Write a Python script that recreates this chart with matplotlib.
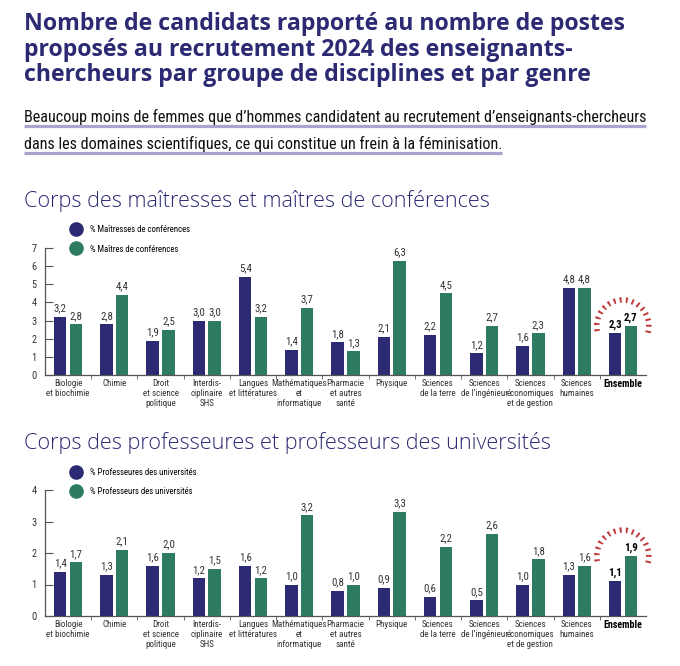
import numpy as np
import matplotlib.pyplot as plt
from matplotlib.lines import Line2D
from matplotlib.patches import Arc
from matplotlib.transforms import ScaledTranslation

# data
categories = ["Biologie\net biochimie", "Chimie", "Droit\net science\npolitique",
              "Interdis-\nciplinaire\nSHS", "Langues\net littératures",
              "Mathématiques\net\ninformatique", "Pharmacie\net autres\nsanté",
              "Physique", "Sciences\nde la terre", "Sciences\nde l\u2019ingénieur",
              "Sciences\néconomiques\net de gestion", "Sciences\nhumaines", "Ensemble"]

mcf_femmes = [3.2, 2.8, 1.9, 3.0, 5.4, 1.4, 1.8, 2.1, 2.2, 1.2, 1.6, 4.8, 2.3]
mcf_hommes = [2.8, 4.4, 2.5, 3.0, 3.2, 3.7, 1.3, 6.3, 4.5, 2.7, 2.3, 4.8, 2.7]
pu_femmes = [1.4, 1.3, 1.6, 1.2, 1.6, 1.0, 0.8, 0.9, 0.6, 0.5, 1.0, 1.3, 1.1]
pu_hommes = [1.7, 2.1, 2.0, 1.5, 1.2, 3.2, 1.0, 3.3, 2.2, 2.6, 1.8, 1.6, 1.9]

title_lines = ["Nombre de candidats rapporté au nombre de postes",
               "proposés au recrutement 2024 des enseignants-",
               "chercheurs par groupe de disciplines et par genre"]
subtitle_lines = ["Beaucoup moins de femmes que d\u2019hommes candidatent au recrutement d\u2019enseignants-chercheurs",
                  "dans les domaines scientifiques, ce qui constitue un frein à la féminisation."]
heading1 = "Corps des maîtresses et maîtres de conférences"
heading2 = "Corps des professeures et professeurs des universités"
legend1 = ["% Maîtresses de conférences", "% Maîtres de conférences"]
legend2 = ["% Professeures des universités", "% Professeurs des universités"]

NAVY = "#2b2a72"
GREEN = "#2e7b63"
RED = "#c0393b"
TEXT = "#333333"
NARROW = ["Liberation Sans Narrow", "Roboto Condensed", "Noto Sans Condensed",
          "Open Sans Condensed", "DejaVu Sans Condensed", "Noto Sans", "DejaVu Sans"]

W, H = 680, 666
fig = plt.figure(figsize=(W / 100, H / 100), dpi=100)


def fx(x):
    return x / W


def fy(y):
    return 1 - y / H


def fit(texts, target_px):
    # scale font size so the first text spans target_px
    fig.canvas.draw()
    w = texts[0].get_window_extent(fig.canvas.get_renderer()).width
    for t in texts:
        t.set_fontsize(t.get_fontsize() * target_px / w)


# header
title_texts = []
for i, line in enumerate(title_lines):
    title_texts.append(fig.text(fx(24), fy(30 + i * 25.5), line, fontsize=16, fontweight="bold",
                                family=["Open Sans", "DejaVu Sans"], color=NAVY, va="baseline"))

sub_texts = []
for i, line in enumerate(subtitle_lines):
    sub_texts.append(fig.text(fx(24), fy(122 + i * 26.5), line, fontsize=12.5, family=NARROW,
                              fontstretch="condensed", color="#111111", va="baseline", zorder=3))

h1 = fig.text(fx(24), fy(207), heading1, fontsize=14.4, family=["Open Sans", "DejaVu Sans"],
              fontweight=300, color=NAVY, va="baseline")
h2 = fig.text(fx(24), fy(449), heading2, fontsize=14.4, family=["Open Sans", "DejaVu Sans"],
              fontweight=300, color=NAVY, va="baseline")

fit(title_texts, 604)
fit(sub_texts, 628)
fit([h1, h2], 466)


def fmt(v):
    return f"{v:.1f}".replace(".", ",")


def bar_panel(rect, fem, hom, ymax, labels, leg_top):
    ax = fig.add_axes(rect)
    x = np.arange(len(categories))
    off, bw = 0.17, 0.27
    ax.bar(x - off, fem, bw, color=NAVY)
    ax.bar(x + off, hom, bw, color=GREEN)
    last = len(categories) - 1
    for xs, vals in ((x - off, fem), (x + off, hom)):
        for i, (xi, v) in enumerate(zip(xs, vals)):
            bold = i == last
            ax.annotate(fmt(v), (xi, v), xytext=(0, 2.5), textcoords="offset points",
                        ha="center", va="bottom", fontsize=7.8, family=NARROW,
                        fontstretch="condensed", fontweight="bold" if bold else "normal",
                        color="#000000" if bold else TEXT)
    ax.set_xlim(-0.5, len(categories) - 0.5)
    ax.set_ylim(0, ymax)
    ax.set_yticks(range(ymax + 1))
    ax.set_xticks(x)
    ax.set_xticklabels(categories, fontsize=6.5, family=NARROW, fontstretch="condensed",
                       color=TEXT, linespacing=1.15)
    tl = ax.get_xticklabels()[-1]
    tl.set_fontweight("bold")
    tl.set_fontsize(7.2)
    tl.set_color("#000000")
    ax.set_xticks(x[:-1] + 0.5, minor=True)
    ax.tick_params(axis="x", which="major", length=0, pad=3)
    ax.tick_params(axis="x", which="minor", length=3, color="#555555", direction="out")
    ax.tick_params(axis="y", length=6, direction="in", color="#555555", pad=6,
                   labelsize=7.5, labelcolor=TEXT)
    for lab in ax.get_yticklabels():
        lab.set_family(NARROW)
        lab.set_fontstretch("condensed")
    for s in ("top", "right"):
        ax.spines[s].set_visible(False)
    for s in ("left", "bottom"):
        ax.spines[s].set_color("#555555")
        ax.spines[s].set_linewidth(0.9)

    # dashed sunburst around the "Ensemble" group
    cy = max(fem[last], hom[last])
    arc = Arc((0, 0), 0.52, 0.52, theta1=-15, theta2=195, lw=4, color=RED,
              linestyle=(0, (0.35, 0.75)),
              transform=fig.dpi_scale_trans + ScaledTranslation(last, cy, ax.transData))
    arc.set_clip_on(False)
    ax.add_artist(arc)

    handles = [Line2D([], [], marker="o", ls="", ms=9.5, color=NAVY),
               Line2D([], [], marker="o", ls="", ms=9.5, color=GREEN)]
    fig.legend(handles, labels, loc="upper left", bbox_to_anchor=(fx(72), fy(leg_top)),
               frameon=False, prop={"family": NARROW, "size": 6.3, "stretch": "condensed"},
               handlelength=1.0, handletextpad=1.1, labelspacing=1.2,
               borderpad=0, borderaxespad=0)
    return ax


bar_panel([fx(45), fy(375), fx(646) - fx(45), (375 - 248) / H],
          mcf_femmes, mcf_hommes, 7, legend1, 225)
bar_panel([fx(45), fy(616), fx(646) - fx(45), (616 - 490) / H],
          pu_femmes, pu_hommes, 4, legend2, 468)

# lavender underline bars under the subtitle
fig.canvas.draw()
r = fig.canvas.get_renderer()
for t in sub_texts:
    bb = t.get_window_extent(r)
    yb = bb.y0 - 1.0
    fig.add_artist(Line2D([bb.x0 / W, bb.x1 / W], [yb / H, yb / H], color="#aaa4cf",
                          lw=2.3, solid_capstyle="butt", transform=fig.transFigure, zorder=2))

fig.savefig("out.png", dpi=100)
